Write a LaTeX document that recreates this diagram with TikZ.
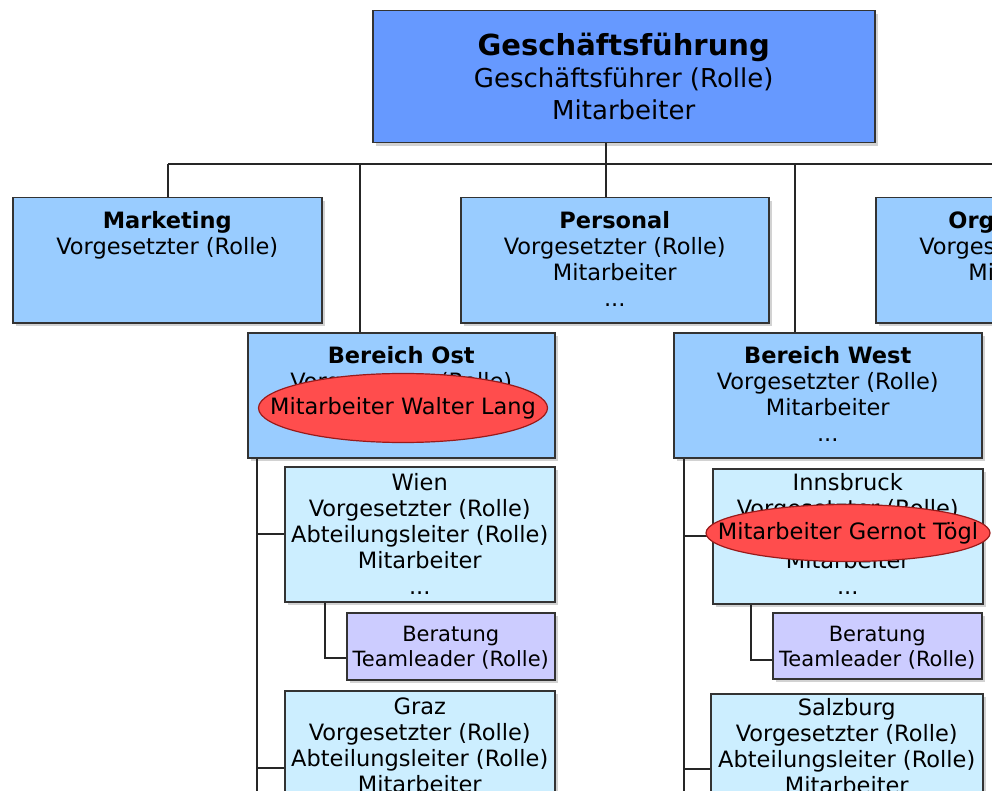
\documentclass[tikz,border=0pt]{standalone}
\usepackage{fontspec}
\setmainfont{DejaVu Sans}
\usepackage{tikz}
\usetikzlibrary{shapes.geometric,shadows}

\definecolor{topblue}{HTML}{6699FF}
\definecolor{midblue}{HTML}{99CCFF}
\definecolor{cityblue}{HTML}{CCEEFF}
\definecolor{teamlila}{HTML}{CCCCFF}
\definecolor{markred}{HTML}{FF4D4D}
\definecolor{markline}{HTML}{9A1A1A}

\begin{document}
\begin{tikzpicture}[
  x=1pt, y=-1pt,
  unit/.style n args={3}{draw=black!80, line width=1.5pt, inner sep=0pt, anchor=north west,
    font=\fontsize{22.5}{26}\selectfont,
    drop shadow={shadow xshift=3pt, shadow yshift=-3pt, fill=black!35},
    execute at begin node={\begin{minipage}[t][#2pt][t]{#1pt}\centering\rule{0pt}{#3pt}},
    execute at end node={\end{minipage}}},
  team/.style={fill=teamlila, font=\fontsize{21}{25}\selectfont},
  link/.style={draw=black!85, line width=1.6pt},
  person/.style={ellipse, draw=markline, line width=1.2pt, fill=markred, inner sep=0pt,
    font=\fontsize{22.5}{26}\selectfont}
]
\useasboundingbox (0,0) rectangle (992,791);
\clip (0,0) rectangle (992,791);

% Leitung
\node[unit={502}{132}{45}, fill=topblue, font=\fontsize{26}{32}\selectfont] (gf) at (372,10)
  {{\fontsize{29}{32}\selectfont\bfseries Geschäftsführung}\\Geschäftsführer (Rolle)\\Mitarbeiter};

% Abteilungen
\node[unit={309}{125}{31}, fill=midblue] (mkt) at (12,197)
  {\textbf{Marketing}\\Vorgesetzter (Rolle)};
\node[unit={308}{125}{31}, fill=midblue] (pers) at (460,197)
  {\textbf{Personal}\\Vorgesetzter (Rolle)\\Mitarbeiter\\...};
\node[unit={309}{125}{31}, fill=midblue] (org) at (875,197)
  {\textbf{Organisation}\\Vorgesetzter (Rolle)\\Mitarbeiter\\...};
\node[unit={307}{125}{31}, fill=midblue] (ost) at (247,332)
  {\textbf{Bereich Ost}\\Vorgesetzter (Rolle)\\Mitarbeiter\\...};
\node[unit={308}{125}{31}, fill=midblue] (west) at (673,332)
  {\textbf{Bereich West}\\Vorgesetzter (Rolle)\\Mitarbeiter\\...};

% Standorte Ost
\node[unit={270}{135}{24}, fill=cityblue] (wien) at (284,466)
  {Wien\\Vorgesetzter (Rolle)\\Abteilungsleiter (Rolle)\\Mitarbeiter\\...};
\node[unit={208}{67}{29}, team] (berost) at (346,612)
  {Beratung\\Teamleader (Rolle)};
\node[unit={270}{155}{24}, fill=cityblue] (graz) at (284,690)
  {Graz\\Vorgesetzter (Rolle)\\Abteilungsleiter (Rolle)\\Mitarbeiter\\...};

% Standorte West
\node[unit={270}{135}{22}, fill=cityblue] (inn) at (712,468)
  {Innsbruck\\Vorgesetzter (Rolle)\\Abteilungsleiter (Rolle)\\Mitarbeiter\\...};
\node[unit={209}{66}{29}, team] (berwest) at (772,612)
  {Beratung\\Teamleader (Rolle)};
\node[unit={272}{150}{22}, fill=cityblue] (salz) at (710,693)
  {Salzburg\\Vorgesetzter (Rolle)\\Abteilungsleiter (Rolle)\\Mitarbeiter\\...};

% Verbindungen
\coordinate (busl) at (168,164);
\coordinate (busr) at (992,164);
\coordinate (jg) at (606,164);
\coordinate (jo) at (360,164);
\coordinate (jw) at (795,164);
\coordinate (so) at (257,791);
\coordinate (sw) at (684,791);
\coordinate (to) at (325,658);
\coordinate (tw) at (751,660);

\draw[link] (busl) -- (busr);
\draw[link] (jg) -- (jg |- gf.south);
\draw[link] (busl) -- (busl |- mkt.north);
\draw[link] (jo) -- (jo |- ost.north);
\draw[link] (jg) -- (jg |- pers.north);
\draw[link] (jw) -- (jw |- west.north);

\draw[link] (so |- ost.south) -- (so);
\draw[link] (so |- wien.west) -- (wien.west);
\draw[link] (so |- graz.west) -- (graz.west);
\draw[link] (to |- wien.south) -- (to) -- (to -| berost.west);

\draw[link] (sw |- west.south) -- (sw);
\draw[link] (sw |- inn.west) -- (inn.west);
\draw[link] (sw |- salz.west) -- (salz.west);
\draw[link] (tw |- inn.south) -- (tw) -- (tw -| berwest.west);

% Markierungen
\node[person, minimum width=289pt, minimum height=69pt] (lang) at (403,408)
  {\makebox[0pt]{Mitarbeiter Walter Lang}};
\node[person, minimum width=284pt, minimum height=57pt] (toegl) at (848,533)
  {\makebox[0pt]{Mitarbeiter Gernot Tögl}};
\end{tikzpicture}
\end{document}
